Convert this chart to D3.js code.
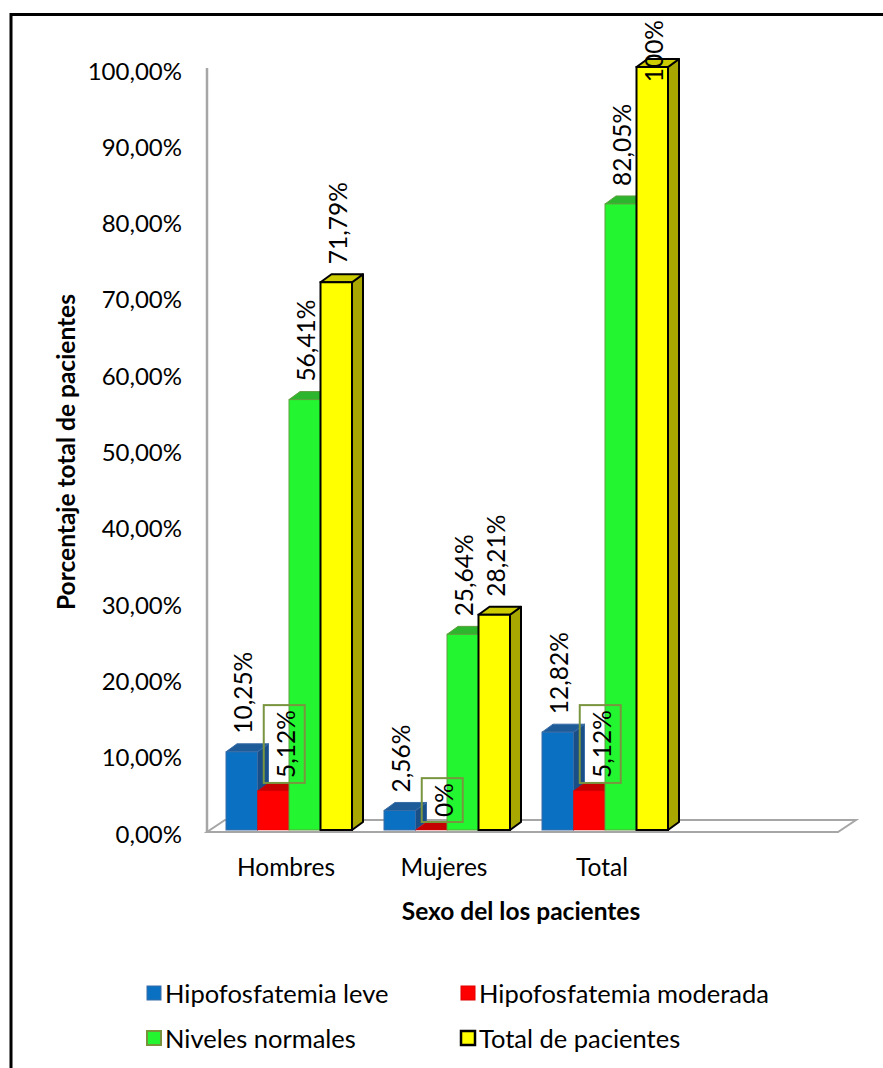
<!DOCTYPE html>
<html>
<head>
<meta charset="utf-8">
<script src="https://cdn.jsdelivr.net/npm/d3@7"></script>
<style>
  html, body { margin: 0; padding: 0; background: #fff; }
  svg { display: block; }
  text { font-family: Lato, "Open Sans", sans-serif; fill: #000; }
</style>
</head>
<body>
<svg id="chart" width="883" height="1068"></svg>
<script>
// Categories (the last slot is an empty band that the floor extends over)
const categories = ["Hombres", "Mujeres", "Total"];
const seriesNames = ["Hipofosfatemia leve", "Hipofosfatemia moderada", "Niveles normales", "Total de pacientes"];
const leve      = [10.25, 2.56, 12.82];
const moderada  = [5.12, 0, 5.12];
const normales  = [56.41, 25.64, 82.05];
const totalPac  = [71.79, 28.21, 100];
const valueLabels = [
  ["10,25%", "2,56%", "12,82%"],
  ["5,12%", "0%", "5,12%"],
  ["56,41%", "25,64%", "82,05%"],
  ["71,79%", "28,21%", "100%"]
];
const yTicks = [0, 10, 20, 30, 40, 50, 60, 70, 80, 90, 100];
const yTickLabels = ["0,00%", "10,00%", "20,00%", "30,00%", "40,00%", "50,00%", "60,00%", "70,00%", "80,00%", "90,00%", "100,00%"];

const seriesValues = [leve, moderada, normales, totalPac];

// Colours per series: front, top, side, outline
const styles = [
  { front: "#0a70c2", top: "#1d5b99", side: "#1a4e86", stroke: "#3a6ca6", sw: 1 },
  { front: "#ff0000", top: "#c40000", side: "#b00000", stroke: "#e00000", sw: 0.5 },
  { front: "#24f531", top: "#2eb52e", side: "#239a23", stroke: "#5fa03e", sw: 1 },
  { front: "#ffff00", top: "#cccc00", side: "#a7a700", stroke: "#000000", sw: 2 }
];

const svg = d3.select("#chart");

// Outer frame (left and top edges)
svg.append("path")
  .attr("d", "M11,1068 V14.5 H883")
  .attr("fill", "none").attr("stroke", "#000").attr("stroke-width", 3);

const y = d3.scaleLinear().domain([0, 100]).range([830, 67]);
const x = d3.scaleBand().domain([...categories, ""]).range([210, 842]);
const groupW = 126;
const inner = d3.scaleBand().domain(d3.range(seriesNames.length)).range([0, groupW]);

const dx = 11, dy = -8;          // bar depth
const fdx = 18, fdy = -12;        // floor depth

// Floor
const fl = x.range()[0] - 3, fr = x.range()[1] - 4, fy = y(0) + 2;
svg.append("path")
  .attr("d", `M${fl},${fy} L${fr},${fy} L${fr + fdx},${fy + fdy} L${fl + fdx},${fy + fdy} Z`)
  .attr("fill", "#fff").attr("stroke", "#a6a6a6").attr("stroke-width", 2);

// Back wall edge
svg.append("line")
  .attr("x1", fl).attr("x2", fl)
  .attr("y1", y(100) + 1).attr("y2", fy)
  .attr("stroke", "#a6a6a6").attr("stroke-width", 2.5);

// Y axis tick labels
svg.append("g").selectAll("text")
  .data(yTicks)
  .join("text")
  .attr("x", 182)
  .attr("y", d => y(d) + 3)
  .attr("text-anchor", "end")
  .attr("dominant-baseline", "central")
  .style("font-size", "24px")
  .text((d, i) => yTickLabels[i]);

// Bars (drawn left to right so each front covers the previous side)
const bars = [];
categories.forEach((c, ci) => {
  seriesNames.forEach((s, si) => {
    bars.push({ ci, si, v: seriesValues[si][ci], label: valueLabels[si][ci] });
  });
});

const gBars = svg.append("g");
bars.forEach(b => {
  const st = styles[b.si];
  const x0 = x(categories[b.ci]) + (x.bandwidth() - groupW) / 2 + inner(b.si);
  const w = inner.bandwidth();
  const y0 = y(0), y1 = y(b.v);
  b.x0 = x0; b.w = w; b.y1 = y1;
  const g = gBars.append("g");
  // side face
  g.append("path")
    .attr("d", `M${x0 + w},${y1} L${x0 + w + dx},${y1 + dy} L${x0 + w + dx},${y0 + dy} L${x0 + w},${y0} Z`)
    .attr("fill", st.side).attr("stroke", st.stroke).attr("stroke-width", st.sw)
    .attr("stroke-linejoin", "round");
  // top face
  g.append("path")
    .attr("d", `M${x0},${y1} L${x0 + dx},${y1 + dy} L${x0 + w + dx},${y1 + dy} L${x0 + w},${y1} Z`)
    .attr("fill", st.top).attr("stroke", st.stroke).attr("stroke-width", st.sw)
    .attr("stroke-linejoin", "round");
  // front face
  g.append("rect")
    .attr("x", x0).attr("y", y1)
    .attr("width", w).attr("height", y0 - y1)
    .attr("fill", st.front).attr("stroke", st.stroke).attr("stroke-width", st.sw);
});

// Value labels, rotated
const gLab = svg.append("g");
const topLimit = 20;
bars.forEach(b => {
  const cx = b.x0 + b.w / 2 + 1;
  const yBack = b.y1 + dy;
  const t = gLab.append("text")
    .attr("text-anchor", "start")
    .attr("dominant-baseline", "central")
    .style("font-size", "24.5px")
    .text(b.label);
  const len = t.node().getComputedTextLength();
  if (b.si === 1) {
    // boxed label for the moderate series
    const pad = 5;
    const bx = b.x0 + b.w / 2 + 11;
    const bottom = yBack;
    const h = len + pad * 2;
    gLab.insert("rect", "text")
      .attr("x", bx - 20.5).attr("y", bottom - h)
      .attr("width", 41).attr("height", h)
      .attr("fill", "none").attr("stroke", "#7a9540").attr("stroke-width", 2);
    t.attr("transform", `translate(${bx + 1},${bottom - pad}) rotate(-90)`);
  } else {
    let start = yBack - 10;
    if (start - len < topLimit) start = topLimit + len;
    t.attr("transform", `translate(${cx},${start}) rotate(-90)`);
  }
});

// X axis category labels
svg.append("g").selectAll("text")
  .data(categories)
  .join("text")
  .attr("x", d => x(d) + x.bandwidth() / 2 - 3)
  .attr("y", 866)
  .attr("text-anchor", "middle")
  .attr("dominant-baseline", "central")
  .style("font-size", "24.5px")
  .text(d => d);

// Axis titles
svg.append("text")
  .attr("x", 521).attr("y", 910)
  .attr("text-anchor", "middle")
  .attr("dominant-baseline", "central")
  .style("font-size", "24.5px").style("font-weight", "bold")
  .text("Sexo del los pacientes");

svg.append("text")
  .attr("transform", "translate(65,452) rotate(-90)")
  .attr("text-anchor", "middle")
  .attr("dominant-baseline", "central")
  .style("font-size", "24.5px").style("font-weight", "bold")
  .text("Porcentaje total de pacientes");

// Legend
const legendPos = [[147, 993], [461, 993], [147, 1038], [461, 1038]];
const gLeg = svg.append("g");
seriesNames.forEach((s, i) => {
  const [lx, ly] = legendPos[i];
  const st = styles[i];
  gLeg.append("rect")
    .attr("x", lx).attr("y", ly - 7)
    .attr("width", 14).attr("height", 14)
    .attr("fill", st.front)
    .attr("stroke", i === 3 ? "#000" : (i === 2 ? "#77933c" : st.stroke))
    .attr("stroke-width", i === 3 ? 2.5 : (i === 2 ? 2 : 1));
  gLeg.append("text")
    .attr("x", lx + 18).attr("y", ly)
    .attr("dominant-baseline", "central")
    .style("font-size", "25.5px")
    .text(s);
});
</script>
</body>
</html>
